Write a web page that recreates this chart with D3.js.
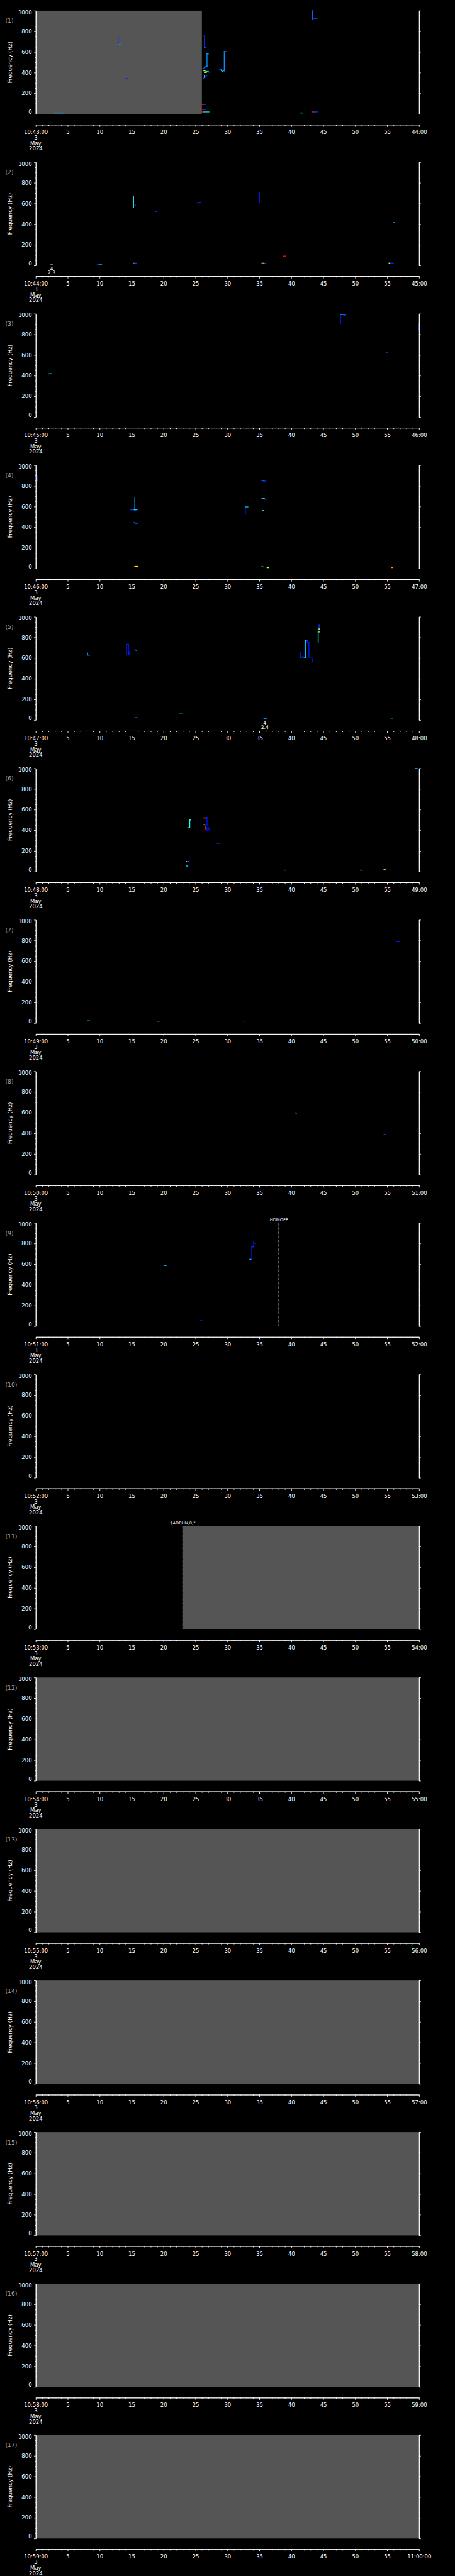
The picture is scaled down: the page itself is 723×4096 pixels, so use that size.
<!DOCTYPE html>
<html>
<head>
<meta charset="utf-8">
<script src="https://cdn.jsdelivr.net/npm/d3@7"></script>
<style>
  html, body { margin: 0; padding: 0; background: #000; }
  svg { display: block; }
  .axis path, .axis line { stroke: #fff; stroke-width: 1.3; }
  .axis text { fill: #fff; font-family: "DejaVu Sans", sans-serif; font-size: 12px; }
</style>
</head>
<body>
<div id="chart"></div>
<script>
// one panel per minute
const minuteStarts = ["10:43:00","10:44:00","10:45:00","10:46:00","10:47:00","10:48:00","10:49:00","10:50:00","10:51:00",
  "10:52:00","10:53:00","10:54:00","10:55:00","10:56:00","10:57:00","10:58:00","10:59:00"];
const minuteEnds = ["44:00","45:00","46:00","47:00","48:00","49:00","50:00","51:00","52:00",
  "53:00","54:00","55:00","56:00","57:00","58:00","59:00","11:00:00"];
const dateLines = ["3", "May", "2024"];
const secondTicks = d3.range(0, 61, 5);
const freqTicks = d3.range(0, 1001, 200);

// [panel, from s, to s] : no data
const grayBands = [[1, 0, 26], [11, 23, 60], [12, 0, 60], [13, 0, 60], [14, 0, 60],
  [15, 0, 60], [16, 0, 60], [17, 0, 60]];

// [panel, second, label]
const events = [[9, 38.05, "HDMOFF"], [11, 23.0, "$ADRUN,0,*"]];

// [panel, second, upper, lower]
const notes = [[2, 2.47, "4", "2.3"], [5, 35.85, "4", "2.4"]];

// traces: [t0, f0, t1, f1, level]
const trace1 = [
  [2.9, 10, 4.3, 10, 0.3], [12.9, 741, 12.9, 669, 0.17], [12.9, 669, 13.3, 669, 0.33],
  [14.1, 341, 14.4, 341, 0.12], [26.4, 754, 26.4, 645, 0.18], [26.2, 754, 26.5, 754, 0.18],
  [26.4, 645, 26.6, 645, 0.2], [26.2, 441, 26.6, 455, 0.22], [26.6, 458, 26.8, 464, 0.27],
  [26.8, 464, 26.8, 581, 0.27], [26.8, 581, 27.0, 581, 0.27],
  [26.3, 418, 26.5, 418, 0.55], [26.4, 402, 26.7, 402, 0.62], [26.6, 412, 27.0, 412, 0.36],
  [27.0, 405, 27.3, 405, 0.18], [26.2, 345, 26.5, 356, 0.18], [26.4, 372, 26.4, 355, 0.45],
  [26.6, 360, 26.8, 372, 0.18], [28.6, 436, 29.0, 430, 0.18], [29.0, 424, 29.2, 410, 0.42],
  [29.3, 418, 29.5, 418, 0.33], [29.5, 418, 29.5, 603, 0.27], [29.5, 603, 29.8, 603, 0.27],
  [26.0, 92, 26.3, 92, 0.85], [26.3, 92, 26.6, 92, 0.17], [26.0, 44, 26.3, 44, 0.85],
  [26.3, 44, 26.6, 44, 0.17], [26.0, 20, 26.3, 20, 0.85], [26.3, 20, 27.1, 20, 0.36],
  [43.3, 1000, 43.3, 913, 0.22], [43.3, 920, 44.0, 920, 0.22], [41.4, 10, 41.7, 10, 0.33],
  [43.2, 20, 43.6, 20, 0.85], [43.6, 20, 44.1, 20, 0.17]
];
const trace2 = [
  [2.3, 14, 2.6, 14, 0.5], [9.6, 10, 9.9, 10, 0.13], [9.9, 14, 10.3, 14, 0.42],
  [15.3, 23, 15.5, 23, 0.8], [15.5, 23, 15.8, 23, 0.17], [15.3, 669, 15.3, 565, 0.44],
  [15.4, 580, 15.6, 585, 0.17], [18.7, 524, 19.0, 524, 0.17], [25.3, 603, 25.4, 609, 0.15],
  [25.4, 611, 25.8, 611, 0.15], [35.0, 703, 35.0, 612, 0.14], [35.4, 23, 35.7, 23, 0.75],
  [35.7, 23, 35.8, 20, 0.36], [35.8, 18, 36.1, 18, 0.17], [38.7, 91, 39.1, 91, 0.85],
  [56.0, 415, 56.2, 415, 0.3], [55.3, 23, 55.5, 23, 0.6], [55.5, 23, 56.0, 23, 0.14]
];
const trace3 = [
  [2.0, 418, 2.5, 420, 0.33], [47.7, 994, 47.7, 904, 0.14], [47.7, 994, 48.5, 994, 0.42],
  [48.2, 985, 48.5, 985, 0.14], [54.9, 621, 55.1, 621, 0.22], [59.9, 900, 59.9, 847, 0.17]
];
const trace4 = [
  [0.2, 893, 0.2, 847, 0.17], [15.5, 690, 15.5, 569, 0.32], [14.8, 569, 16.0, 569, 0.17],
  [15.4, 569, 15.7, 569, 0.36], [15.4, 443, 15.6, 440, 0.46], [15.6, 436, 15.9, 436, 0.17],
  [15.4, 21, 15.6, 21, 0.85], [15.6, 21, 15.9, 21, 0.62], [32.8, 597, 32.8, 523, 0.14],
  [32.8, 597, 33.2, 597, 0.33], [35.4, 853, 35.6, 853, 0.33], [35.6, 847, 36.0, 847, 0.17],
  [35.4, 676, 35.6, 676, 0.58], [35.6, 676, 35.8, 676, 0.36], [35.8, 671, 36.2, 671, 0.17],
  [35.5, 561, 35.6, 561, 0.45], [35.4, 21, 35.6, 16, 0.33], [36.2, 9, 36.4, 9, 0.6],
  [55.7, 9, 55.9, 9, 0.72]
];
const trace5 = [
  [8.1, 650, 8.1, 633, 0.3], [8.1, 629, 8.4, 629, 0.3], [14.2, 733, 14.2, 631, 0.14],
  [14.2, 733, 14.5, 733, 0.14], [14.5, 733, 14.5, 631, 0.14], [14.6, 664, 14.6, 631, 0.14],
  [15.5, 680, 15.8, 674, 0.27], [15.5, 24, 15.7, 24, 0.85], [15.7, 24, 15.9, 24, 0.17],
  [22.5, 59, 23.0, 59, 0.3], [35.7, 17, 36.1, 17, 0.27], [41.4, 660, 41.4, 604, 0.14],
  [41.4, 604, 41.8, 614, 0.17], [41.8, 614, 42.2, 604, 0.3], [42.2, 604, 42.2, 774, 0.33],
  [42.2, 774, 42.5, 774, 0.42], [42.5, 774, 42.5, 750, 0.14], [42.5, 750, 42.75, 750, 0.14],
  [42.75, 750, 42.75, 611, 0.14], [42.75, 611, 43.2, 611, 0.14], [43.2, 611, 43.3, 563, 0.14],
  [44.2, 853, 44.2, 754, 0.46], [44.2, 853, 44.4, 853, 0.46], [44.35, 926, 44.35, 879, 0.17],
  [44.3, 882, 44.4, 882, 0.62], [55.6, 11, 55.85, 11, 0.27]
];
const trace6 = [
  [59.4, 1000, 59.7, 1000, 0.27], [23.8, 428, 24.0, 424, 0.36], [24.1, 428, 24.1, 500, 0.43],
  [24.1, 500, 24.2, 500, 0.43], [26.3, 520, 26.5, 520, 0.72], [26.5, 516, 26.6, 516, 0.85],
  [26.6, 520, 26.8, 524, 0.17], [26.8, 524, 26.8, 444, 0.13], [26.8, 458, 27.0, 458, 0.13],
  [26.3, 458, 26.4, 458, 0.52], [26.45, 458, 26.5, 420, 0.72], [26.5, 420, 26.6, 414, 0.85],
  [26.8, 396, 26.8, 425, 0.13], [26.8, 425, 27.0, 425, 0.13], [27.0, 425, 27.2, 396, 0.13],
  [28.4, 274, 28.7, 274, 0.17], [23.6, 99, 23.7, 99, 0.62], [23.7, 99, 23.9, 99, 0.17],
  [23.6, 56, 23.8, 50, 0.33], [39.0, 14, 39.1, 14, 0.27], [50.8, 14, 51.1, 14, 0.3],
  [54.5, 19, 54.7, 19, 0.56]
];
const trace7 = [
  [56.5, 789, 56.9, 789, 0.13], [8.1, 22, 8.4, 22, 0.33], [19.1, 19, 19.3, 19, 0.8],
  [32.5, 19, 32.7, 19, 0.13]
];
const trace8 = [[40.6, 599, 40.8, 591, 0.22], [54.5, 388, 54.7, 388, 0.22]];
const trace9 = [
  [20.1, 587, 20.4, 587, 0.3], [25.8, 54, 26.0, 54, 0.13], [33.5, 648, 33.8, 648, 0.3],
  [33.8, 648, 33.8, 768, 0.13], [33.8, 768, 34.1, 768, 0.17], [34.1, 768, 34.1, 819, 0.13],
  [34.1, 808, 34.3, 800, 0.13]
];
const traces = [trace1, trace2, trace3, trace4, trace5, trace6, trace7, trace8, trace9];

// drawn in the reference's own units, viewBox shrinks it to the window
const W = 1024, H = 5802;
const step = H / 17;
const margin = {left: 80.5, right: 943.3, top: 24, plot: 232.7, axis: 257};

// rainbow palette, a bit more weight on the blues
const jet = d3.scaleLinear()
  .domain([0, 0.11, 0.25, 0.4, 0.63, 0.86, 1])
  .range(["#000080", "#0000ff", "#0080ff", "#00ffff", "#ffff00", "#ff0000", "#800000"]);

const svg = d3.select("#chart").append("svg")
  .attr("width", 723)
  .attr("height", 4096)
  .attr("viewBox", `0 0 ${W} ${H}`)
  .style("background", "#000");

const x = d3.scaleLinear().domain([0, 60]).range([margin.left, margin.right]);
const y = d3.scaleLinear().domain([0, 1000]).range([margin.top + margin.plot, margin.top]);
const bottom = margin.top + margin.plot;

minuteStarts.forEach((start, i) => {
  const panel = i + 1;
  const g = svg.append("g").attr("transform", `translate(0, ${i * step})`);

  grayBands.filter(b => b[0] === panel).forEach(b => {
    g.append("rect")
      .attr("x", x(b[1]))
      .attr("y", y(1000))
      .attr("width", x(b[2]) - x(b[1]))
      .attr("height", y(0) - y(1000))
      .attr("fill", "#555555");
  });

  const data = traces[i] || [];
  g.append("g").selectAll("line")
    .data(data)
    .enter().append("line")
    .attr("x1", d => x(d[0]))
    .attr("y1", d => y(d[1]))
    .attr("x2", d => x(d[2]))
    .attr("y2", d => y(d[3]))
    .attr("stroke", d => jet(d[4]))
    .attr("stroke-width", 2)
    .attr("stroke-linecap", "square");

  events.filter(e => e[0] === panel).forEach(e => {
    g.append("line")
      .attr("x1", x(e[1])).attr("x2", x(e[1]))
      .attr("y1", y(1000)).attr("y2", y(0))
      .attr("stroke", "#fff")
      .attr("stroke-width", 1.3)
      .attr("stroke-dasharray", "6.5,3");
    g.append("text")
      .attr("x", x(e[1]))
      .attr("y", y(1000) - 4)
      .attr("text-anchor", "middle")
      .attr("fill", "#fff")
      .style("font-family", "DejaVu Sans, sans-serif")
      .style("font-size", "9.5px")
      .text(e[2]);
  });

  notes.filter(n => n[0] === panel).forEach(n => {
    [n[2], n[3]].forEach((t, k) => {
      g.append("text")
        .attr("x", x(n[1]))
        .attr("y", bottom + 10.5 + k * 9)
        .attr("text-anchor", "middle")
        .attr("fill", "#fff")
        .style("font-family", "DejaVu Sans, sans-serif")
        .style("font-size", "11px")
        .text(t);
    });
  });

  // frequency axes, left with labels, right bare
  const minorF = d3.range(0, 1001, 50).filter(v => v % 200 !== 0);
  const left = g.append("g").attr("class", "axis")
    .attr("transform", `translate(${margin.left}, 0)`)
    .call(d3.axisLeft(y).tickValues(freqTicks).tickSize(4).tickSizeOuter(0).tickPadding(5)
      .tickFormat(d3.format("d")));
  left.append("g").call(d3.axisLeft(y).tickValues(minorF).tickSize(2.3).tickSizeOuter(0).tickFormat(""));
  left.selectAll("text")
    .attr("dy", v => v === 0 ? "-0.05em" : v === 1000 ? "0.62em" : "0.32em");

  const right = g.append("g").attr("class", "axis")
    .attr("transform", `translate(${margin.right}, 0)`)
    .call(d3.axisRight(y).tickValues(freqTicks).tickSize(4).tickSizeOuter(0).tickFormat(""));
  right.append("g").call(d3.axisRight(y).tickValues(minorF).tickSize(2.3).tickSizeOuter(0).tickFormat(""));

  // time axis
  const axisY = margin.axis + margin.top;
  const time = g.append("g").attr("class", "axis")
    .attr("transform", `translate(0, ${axisY})`)
    .call(d3.axisBottom(x).tickValues(secondTicks).tickSize(4.7).tickSizeOuter(0).tickPadding(8)
      .tickFormat(v => v === 0 ? start : v === 60 ? minuteEnds[i] : String(v)));
  time.append("g").call(d3.axisBottom(x)
    .tickValues(d3.range(0, 61).filter(v => v % 5 !== 0))
    .tickSize(2.7).tickSizeOuter(0).tickFormat(""));

  dateLines.forEach((t, k) => {
    g.append("text")
      .attr("x", x(0))
      .attr("y", axisY + 33.8 + k * 12.2)
      .attr("text-anchor", "middle")
      .attr("fill", "#fff")
      .style("font-family", "DejaVu Sans, sans-serif")
      .style("font-size", "12px")
      .text(t);
  });

  g.append("text")
    .attr("transform", `translate(23, ${margin.top + margin.plot / 2}) rotate(-90)`)
    .attr("text-anchor", "middle")
    .attr("dominant-baseline", "central")
    .attr("fill", "#fff")
    .style("font-family", "DejaVu Sans, sans-serif")
    .style("font-size", "12.5px")
    .text("Frequency (Hz)");

  g.append("text")
    .attr("x", 12)
    .attr("y", margin.top + 27.5)
    .attr("fill", "#aaaaaa")
    .style("font-family", "DejaVu Sans, sans-serif")
    .style("font-size", "13px")
    .text(`(${panel})`);
});
</script>
</body>
</html>
